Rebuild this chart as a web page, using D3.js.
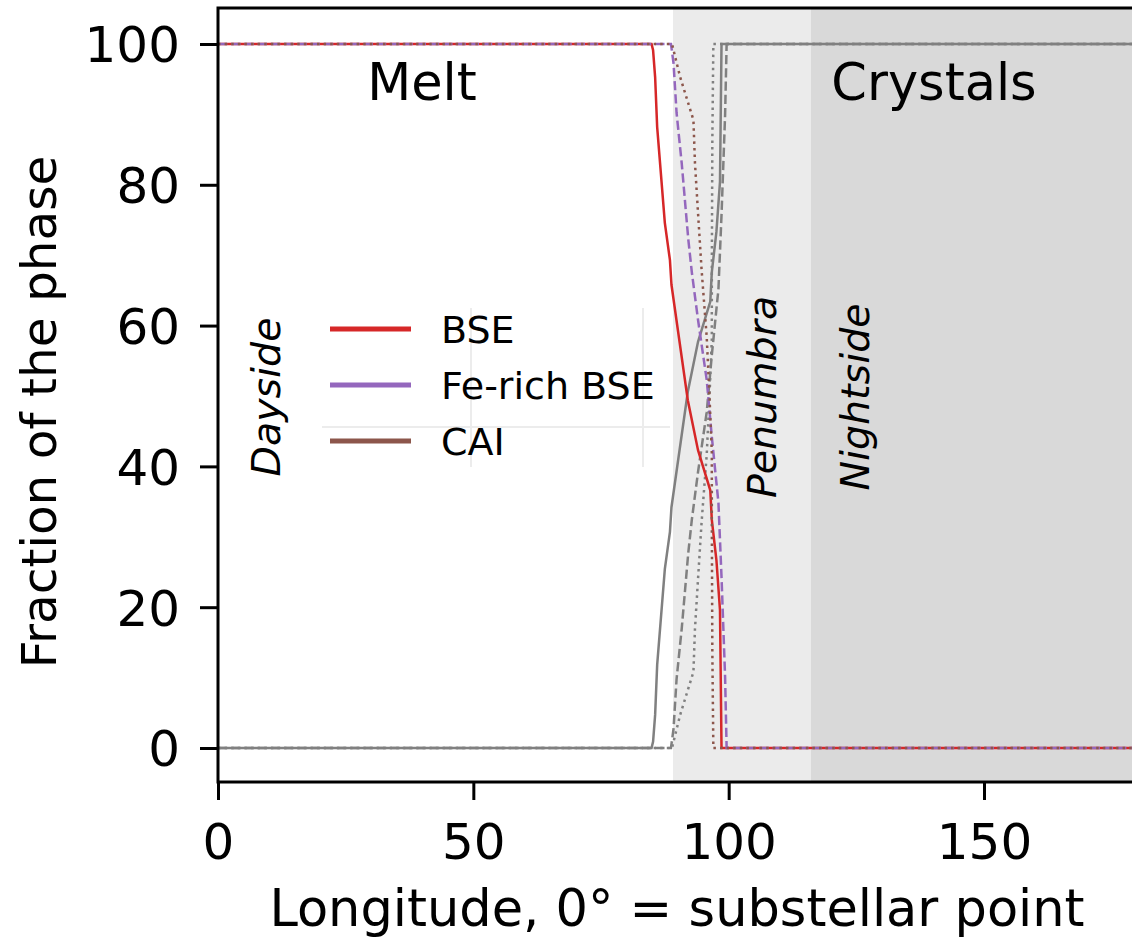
<!DOCTYPE html>
<html><head><meta charset="utf-8">
<script src="https://cdn.jsdelivr.net/npm/d3@7"></script>
<style>html,body{margin:0;padding:0;background:#fff;overflow:hidden}</style>
</head><body>
<svg id="c" width="1132" height="938"></svg>
<script>
// ---- data ----
const xTicks = [0, 50, 100, 150];
const yTicks = [0, 20, 40, 60, 80, 100];
const regions = [
  {name: "Penumbra", from: 89.1, to: 116.1},
  {name: "Nightside", from: 116.1, to: 180}
];
// melt fraction (%) vs longitude
const bseMelt = [[0,100],[84.9,100],[85.2,99.1],[85.6,95.3],[86.0,88.2],[87.5,74.6],[88.5,69.3],[88.8,65.8],[92.0,49.4],[94.0,42.3],[96.4,36.6],[96.7,32.4],[97.6,26.7],[98.3,19.6],[98.6,0],[180,0]];
const feMelt = [[0,100],[88.7,100],[89.2,97.3],[89.8,90.2],[90.8,83.1],[92.1,72.2],[92.8,67.5],[94.0,60.8],[95.7,52.3],[96.7,44.2],[98.0,34.8],[98.6,24.3],[99.3,10.1],[99.6,0],[180,0]];
const caiMelt = [[0,100],[88.9,100],[90.5,95.3],[93.1,89.2],[93.4,83.1],[94.0,76.0],[94.7,67.9],[95.7,58.4],[96.3,49.0],[96.7,41.9],[96.7,32.4],[96.8,13.9],[97.0,0],[180,0]];
// crystal fraction (%) vs longitude
const bseCryst = [[0,0],[84.9,0],[85.2,0.9],[85.6,4.7],[86.0,11.8],[87.5,25.4],[88.5,30.7],[88.8,34.2],[92.0,50.6],[94.0,57.7],[96.4,63.4],[96.7,67.6],[97.6,73.3],[98.3,80.4],[98.6,100],[180,100]];
const feCryst = [[0,0],[88.7,0],[89.2,2.7],[89.8,9.8],[90.8,16.9],[92.1,27.8],[92.8,32.5],[94.0,39.2],[95.7,47.7],[96.7,55.8],[98.0,65.2],[98.6,75.7],[99.3,89.9],[99.6,100],[180,100]];
const caiCryst = [[0,0],[88.9,0],[90.5,4.7],[93.1,10.8],[93.4,16.9],[94.0,24.0],[94.7,32.1],[95.7,41.6],[96.3,51.0],[96.7,58.1],[96.7,67.6],[96.8,86.1],[97.0,100],[180,100]];
const legendLabels = ["BSE", "Fe-rich BSE", "CAI"];

// ---- drawing ----
const svg = d3.select("#c");
const x = d3.scaleLinear().domain([0, 180]).range([218, 1137.2]);
const y = d3.scaleLinear().domain([-4.83, 105.11]).range([782, 8]);
const FONT = "DejaVu Sans, sans-serif";
const colors = {BSE: "#d62728", Fe: "#9467bd", CAI: "#8c564b", gray: "#808080"};
const LW = 2.5;

// regions
const regionFill = {Penumbra: "#ebebeb", Nightside: "#d9d9d9"};
svg.selectAll("rect.reg").data(regions).enter().append("rect")
  .attr("x", d => x(d.from)).attr("width", d => x(d.to) - x(d.from))
  .attr("y", y(105.11)).attr("height", y(-4.83) - y(105.11))
  .attr("fill", d => regionFill[d.name]);

// faint legend artefact lines
const faint = svg.append("g").attr("stroke", "#ececec").attr("stroke-width", 2);
faint.append("line").attr("x1", 471).attr("x2", 471).attr("y1", 308).attr("y2", 467);
faint.append("line").attr("x1", 643).attr("x2", 643).attr("y1", 308).attr("y2", 467);
faint.append("line").attr("x1", 322).attr("x2", 670).attr("y1", 427).attr("y2", 427);

const line = d3.line().x(d => x(d[0])).y(d => y(d[1]));
const series = [
  {d: bseCryst, c: colors.gray, dash: null},
  {d: feCryst, c: colors.gray, dash: "9.25,4"},
  {d: caiCryst, c: colors.gray, dash: "2.5,4.1"},
  {d: bseMelt, c: colors.BSE, dash: null},
  {d: feMelt, c: colors.Fe, dash: "9.25,4"},
  {d: caiMelt, c: colors.CAI, dash: "2.5,4.1"}
];
svg.append("clipPath").attr("id", "pc").append("rect")
  .attr("x", 218).attr("y", 8).attr("width", 1000).attr("height", 774);
svg.append("g").attr("clip-path", "url(#pc)").selectAll("path").data(series).enter().append("path")
  .attr("d", s => line(s.d)).attr("fill", "none").attr("stroke", s => s.c)
  .attr("stroke-width", LW).attr("stroke-dasharray", s => s.dash);

// frame
svg.append("rect").attr("x", 218).attr("y", 8).attr("width", 1137.2 - 218).attr("height", 774)
  .attr("fill", "none").attr("stroke", "#000").attr("stroke-width", 3);

// axes
const xAxis = svg.append("g").attr("transform", "translate(0,782)")
  .call(d3.axisBottom(x).tickValues(xTicks).tickSize(18).tickPadding(20).tickFormat(d3.format("d")));
const yAxis = svg.append("g").attr("transform", "translate(218,0)")
  .call(d3.axisLeft(y).tickValues(yTicks).tickSize(18).tickPadding(20).tickFormat(d3.format("d")));
[xAxis, yAxis].forEach(a => {
  a.select(".domain").remove();
  a.selectAll(".tick line").attr("stroke", "#000").attr("stroke-width", 3);
  a.selectAll(".tick text").attr("fill", "#000").style("font-family", FONT).style("font-size", "50px");
});
xAxis.selectAll(".tick text").attr("dy", "0.78em");
yAxis.selectAll(".tick text").attr("dy", "0.36em");

// axis labels
svg.append("text").attr("x", 677).attr("y", 926).attr("text-anchor", "middle")
  .style("font-family", FONT).style("font-size", "51px").text("Longitude, 0° = substellar point");
svg.append("text").attr("transform", "translate(56,412) rotate(-90)").attr("text-anchor", "middle")
  .style("font-family", FONT).style("font-size", "48.5px").text("Fraction of the phase");

// phase labels
svg.append("text").attr("x", 422).attr("y", 100).attr("text-anchor", "middle")
  .style("font-family", FONT).style("font-size", "51px").text("Melt");
svg.append("text").attr("x", 934).attr("y", 100).attr("text-anchor", "middle")
  .style("font-family", FONT).style("font-size", "51px").text("Crystals");

// region labels (italic, vertical)
const vlabels = [{t: "Dayside", x: 266}, {t: "Penumbra", x: 762}, {t: "Nightside", x: 855}];
svg.selectAll("text.vl").data(vlabels).enter().append("text")
  .attr("transform", d => `translate(${d.x + 14},397) rotate(-90)`)
  .attr("text-anchor", "middle")
  .style("font-family", FONT).style("font-style", "italic").style("font-size", "39.5px")
  .text(d => d.t);

// legend
const legColors = [colors.BSE, colors.Fe, colors.CAI];
const lg = svg.append("g");
legendLabels.forEach((l, i) => {
  const yy = 329 + i * 56;
  lg.append("line").attr("x1", 330).attr("x2", 411).attr("y1", yy).attr("y2", yy)
    .attr("stroke", legColors[i]).attr("stroke-width", 5);
  lg.append("text").attr("x", 441).attr("y", yy + 14)
    .style("font-family", FONT).style("font-size", "38px").text(l);
});
</script>
</body></html>
